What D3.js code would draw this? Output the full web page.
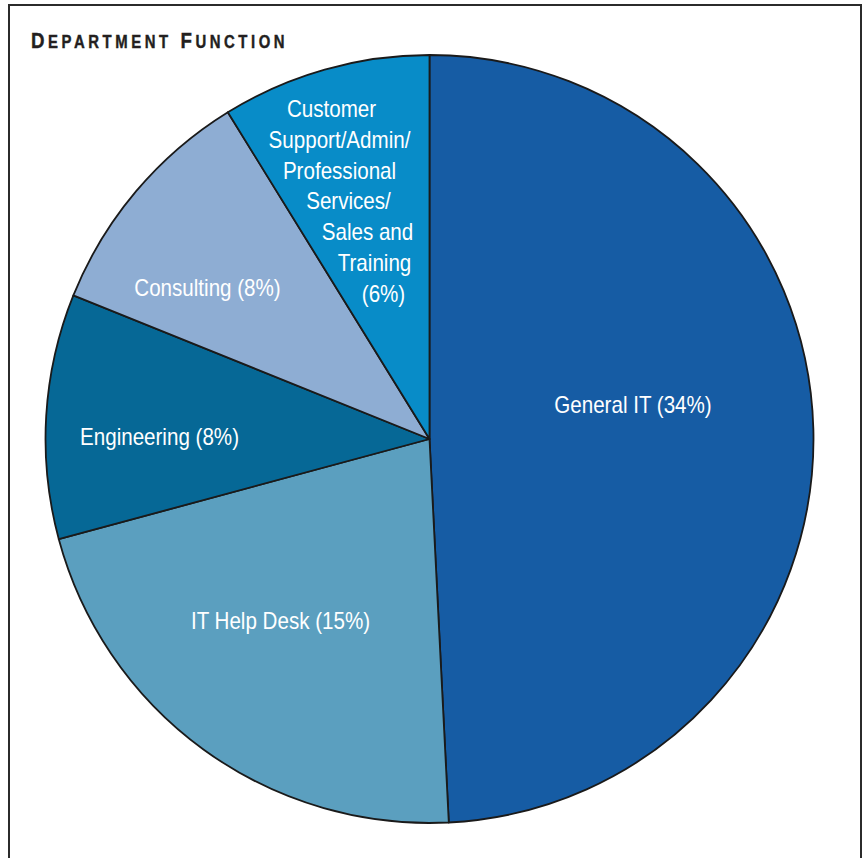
<!DOCTYPE html>
<html>
<head>
<meta charset="utf-8">
<script src="https://cdn.jsdelivr.net/npm/d3@7/dist/d3.min.js"></script>
<style>
  html, body { margin: 0; padding: 0; background: #fff; }
  svg { display: block; }
</style>
</head>
<body>
<svg id="chart" width="863" height="858"></svg>
<script>
// ---- data ----
const categories = ["General IT", "IT Help Desk", "Engineering", "Consulting", "Customer Support/Admin/Professional Services/Sales and Training"];
const labelPercents = [34, 15, 8, 8, 6];          // printed percentages
const sliceShares = [49.2, 21.6, 10.3, 10.1, 8.8]; // slice sizes as drawn (share of circle)
const labelLines = [
  ["General IT (34%)"],
  ["IT Help Desk (15%)"],
  ["Engineering (8%)"],
  ["Consulting (8%)"],
  ["Customer", "Support/Admin/", "Professional", "Services/", "Sales and", "Training", "(6%)"]
];
const colors = ["#165ca4", "#5b9fbf", "#066896", "#8eadd3", "#088cc8"];

// ---- layout ----
const W = 863, H = 858;
const cx = 429.5, cy = 439, R = 384;
const labelFont = "'Liberation Sans', Arial, Helvetica, sans-serif";
const condense = 0.895;
// label anchor offsets from the pie centre (per line: [dx, dy of baseline])
const labelOffsets = [
  [[203.5, -26]],
  [[-149, 190]],
  [[-270, 6]],
  [[-222, -143]],
  [[-98, -322], [-90, -291], [-90, -260], [-81, -230], [-62, -199], [-55, -168], [-46, -137]]
];

const svg = d3.select("#chart");

// frame
svg.append("rect")
  .attr("x", 9).attr("y", 5).attr("width", 852).attr("height", 870)
  .attr("fill", "none").attr("stroke", "#2b2b2b").attr("stroke-width", 2);

// title (small caps built from tspans), horizontally condensed
const title = svg.append("g")
  .attr("transform", "translate(31,47.5) scale(0.85,1)")
  .append("text")
  .attr("x", 0).attr("y", 0)
  .attr("font-family", labelFont)
  .attr("font-weight", "bold")
  .attr("fill", "#231f20")
  .attr("stroke", "#231f20")
  .attr("stroke-width", 0.4)
  .attr("letter-spacing", "4.2px");
[["D", 22], ["EPARTMENT", 17.5], [" F", 22], ["UNCTION", 17.5]].forEach(([t, s]) => {
  title.append("tspan").attr("font-size", s).text(t);
});

// pie
const pie = d3.pie().sort(null).value(d => d)(sliceShares);
const arc = d3.arc().innerRadius(0).outerRadius(R);
const g = svg.append("g").attr("transform", `translate(${cx},${cy})`);

g.selectAll("path.slice")
  .data(pie)
  .join("path")
  .attr("class", "slice")
  .attr("d", arc)
  .attr("fill", (d, i) => colors[i])
  .attr("stroke", "#1a1a1a")
  .attr("stroke-width", 1.8)
  .attr("stroke-linejoin", "round");

// labels
labelLines.forEach((lines, i) => {
  lines.forEach((line, j) => {
    const [dx, dy] = labelOffsets[i][j];
    g.append("g")
      .attr("transform", `translate(${dx},${dy}) scale(${condense},1)`)
      .append("text")
      .attr("x", 0).attr("y", 0)
      .attr("text-anchor", "middle")
      .attr("font-family", labelFont)
      .attr("font-size", 23)
      .attr("fill", "#ffffff")
      .text(line);
  });
});
</script>
</body>
</html>
